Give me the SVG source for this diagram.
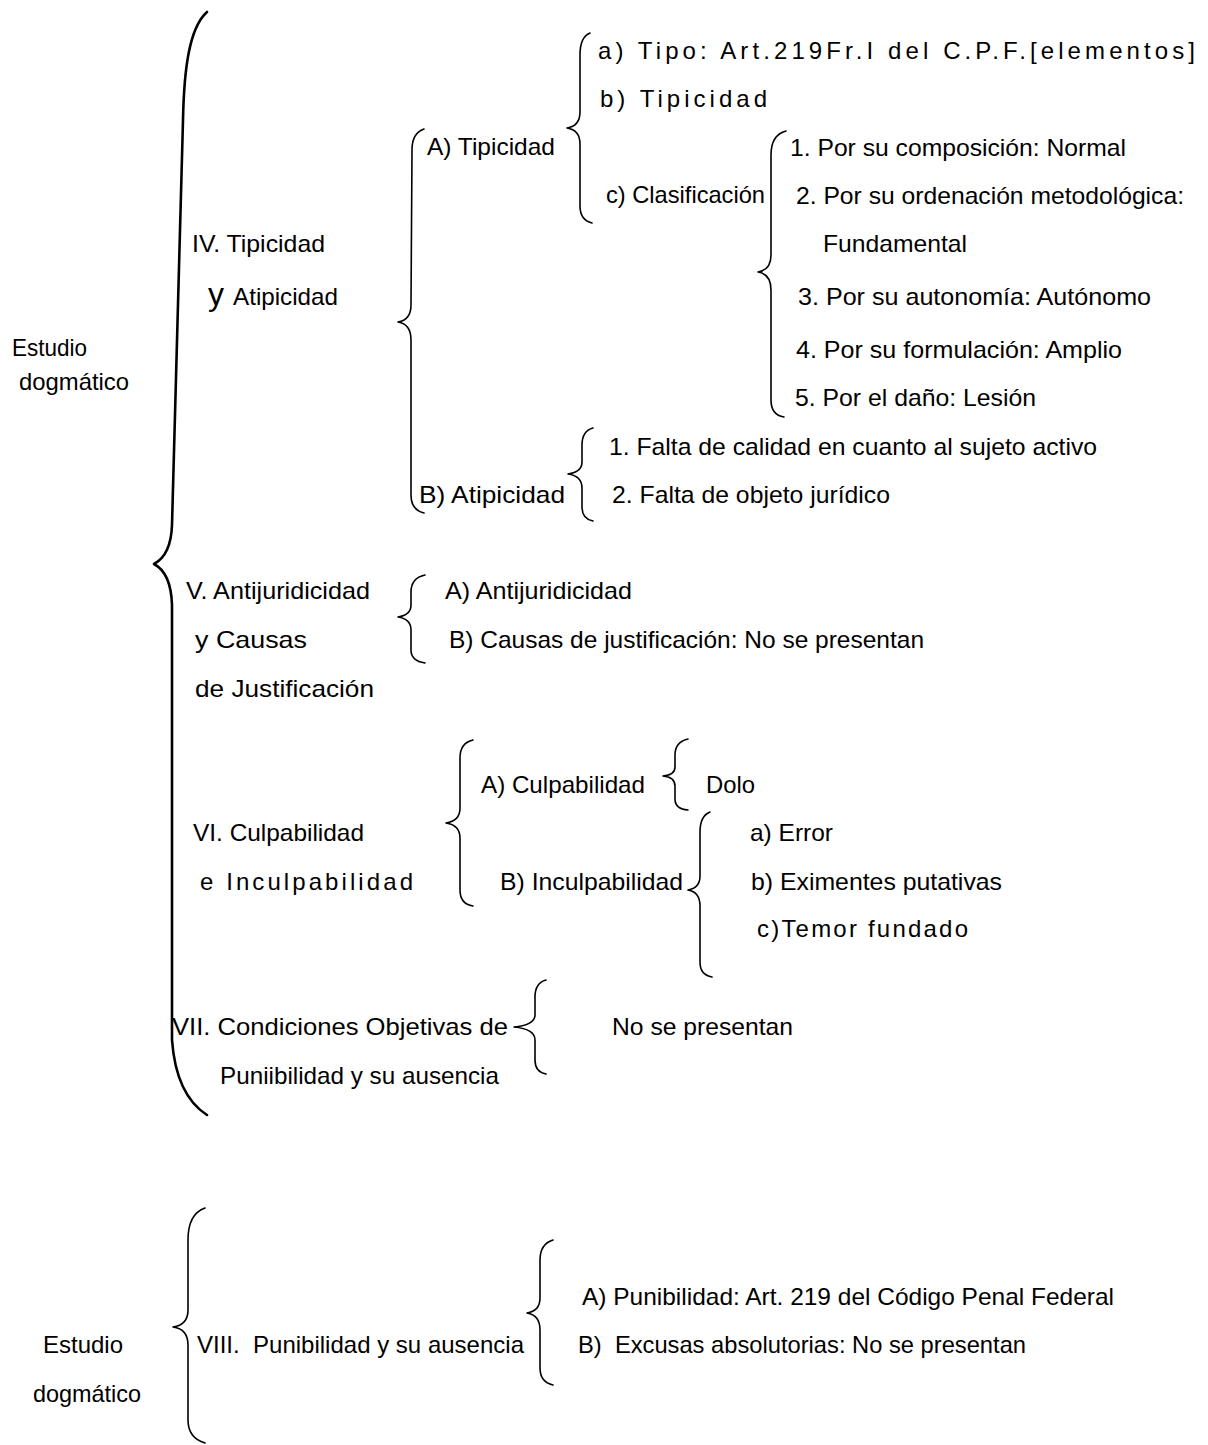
<svg xmlns="http://www.w3.org/2000/svg" width="1208" height="1445" viewBox="0 0 1208 1445">
  <style>
    text { font-family: "Liberation Sans", Arial, sans-serif; font-size: 24px; fill: #000; }
    text.tall { font-size: 32px; }
    .brace { fill: none; stroke: #000; stroke-width: 1.6; stroke-linecap: round; stroke-linejoin: round; }
    .big { stroke-width: 2.6; }
  </style>
  <rect width="1208" height="1445" fill="#fff"/>

  <!-- braces -->
  <g id="connectors">
    <path class="brace big" d="M207,12 C189,28 184,70 183,120 L172,525 Q171,555 154,564 Q171,573 172,605 L172,1040 Q176,1095 207,1115"/>
    <path class="brace" d="M424,129 Q412,133 412,150 L411,305 Q411,320 398,322 Q411,324 411,340 L411,495 Q411,510 424,513"/>
    <path class="brace" d="M590,33 Q580,37 580,55 L580,112 Q580,126 567,128 Q580,130 580,144 L580,206 Q580,220 592,223"/>
    <path class="brace" d="M786,131 Q771,135 771,155 L771,255 Q771,270 758,272 Q771,274 771,290 L771,400 Q771,415 784,417"/>
    <path class="brace" d="M593,428 Q582,431 582,445 L582,462 Q582,472 568,474 Q582,476 582,488 L582,507 Q582,519 593,521"/>
    <path class="brace" d="M425,575 Q411,578 411,592 L411,605 Q411,615 398,617 Q411,619 411,630 L411,650 Q411,661 425,663"/>
    <path class="brace" d="M473,740 Q460,743 460,758 L460,808 Q460,821 446,823 Q460,825 460,838 L460,890 Q460,904 473,906"/>
    <path class="brace" d="M688,739 Q675,742 675,755 L675,767 Q675,775 663,776 Q675,777 675,786 L675,799 Q675,809 688,810"/>
    <path class="brace" d="M710,812 Q700,816 700,832 L700,876 Q700,888 688,890 Q700,892 700,906 L700,962 Q700,975 712,977"/>
    <path class="brace" d="M546,980 Q535,983 535,997 L535,1015 Q535,1025 514,1027 Q535,1029 535,1040 L535,1060 Q535,1072 546,1074"/>
    <path class="brace" d="M205,1208 Q188,1214 188,1240 L188,1310 Q188,1325 173,1327 Q188,1329 188,1345 L188,1420 Q188,1438 205,1443"/>
    <path class="brace" d="M553,1240 Q540,1244 540,1260 L540,1298 Q540,1311 527,1313 Q540,1315 540,1330 L540,1368 Q540,1382 553,1385"/>
  </g>

  <g id="estudio-1">
    <text x="12" y="356" textLength="75" lengthAdjust="spacingAndGlyphs">Estudio</text>
    <text x="19" y="390" textLength="110" lengthAdjust="spacingAndGlyphs">dogmático</text>
  </g>

  <g id="iv">
    <text x="192" y="252" textLength="133" lengthAdjust="spacingAndGlyphs">IV. Tipicidad</text>
    <text class="tall" x="208" y="305">y</text>
    <text x="233" y="305" textLength="105" lengthAdjust="spacingAndGlyphs">Atipicidad</text>
  </g>

  <g id="iv-a">
    <text x="427" y="155" textLength="128" lengthAdjust="spacingAndGlyphs">A) Tipicidad</text>
    <text x="598" y="59" textLength="597" lengthAdjust="spacing">a) Tipo: Art.219Fr.I del C.P.F.[elementos]</text>
    <text x="600" y="107" textLength="167" lengthAdjust="spacing">b) Tipicidad</text>
    <text x="606" y="203" textLength="159" lengthAdjust="spacingAndGlyphs">c) Clasificación</text>
  </g>

  <g id="iv-a-c">
    <text x="790" y="156" textLength="336" lengthAdjust="spacingAndGlyphs">1. Por su composición: Normal</text>
    <text x="796" y="204" textLength="388" lengthAdjust="spacingAndGlyphs">2. Por su ordenación metodológica:</text>
    <text x="823" y="252" textLength="144" lengthAdjust="spacingAndGlyphs">Fundamental</text>
    <text x="798" y="305" textLength="353" lengthAdjust="spacingAndGlyphs">3. Por su autonomía: Autónomo</text>
    <text x="796" y="358" textLength="326" lengthAdjust="spacingAndGlyphs">4. Por su formulación: Amplio</text>
    <text x="795" y="406" textLength="241" lengthAdjust="spacingAndGlyphs">5. Por el daño: Lesión</text>
  </g>

  <g id="iv-b">
    <text x="419" y="503" textLength="146" lengthAdjust="spacingAndGlyphs">B) Atipicidad</text>
    <text x="609" y="455" textLength="488" lengthAdjust="spacingAndGlyphs">1. Falta de calidad en cuanto al sujeto activo</text>
    <text x="612" y="503" textLength="278" lengthAdjust="spacingAndGlyphs">2. Falta de objeto jurídico</text>
  </g>

  <g id="v">
    <text x="186" y="599" textLength="184" lengthAdjust="spacingAndGlyphs">V. Antijuridicidad</text>
    <text x="195" y="648" textLength="112" lengthAdjust="spacingAndGlyphs">y Causas</text>
    <text x="195" y="697" textLength="179" lengthAdjust="spacingAndGlyphs">de Justificación</text>
    <text x="445" y="599" textLength="187" lengthAdjust="spacingAndGlyphs">A) Antijuridicidad</text>
    <text x="449" y="648" textLength="475" lengthAdjust="spacingAndGlyphs">B) Causas de justificación: No se presentan</text>
  </g>

  <g id="vi">
    <text x="193" y="841" textLength="171" lengthAdjust="spacingAndGlyphs">VI. Culpabilidad</text>
    <text x="200" y="890" textLength="213" lengthAdjust="spacing">e Inculpabilidad</text>
    <text x="481" y="793" textLength="164" lengthAdjust="spacingAndGlyphs">A) Culpabilidad</text>
    <text x="706" y="793" textLength="49" lengthAdjust="spacingAndGlyphs">Dolo</text>
    <text x="500" y="890" textLength="183" lengthAdjust="spacingAndGlyphs">B) Inculpabilidad</text>
    <text x="750" y="841" textLength="83" lengthAdjust="spacingAndGlyphs">a) Error</text>
    <text x="751" y="890" textLength="251" lengthAdjust="spacingAndGlyphs">b) Eximentes putativas</text>
    <text x="757" y="937" textLength="211" lengthAdjust="spacing">c)Temor fundado</text>
  </g>

  <g id="vii">
    <text x="172" y="1035" textLength="336" lengthAdjust="spacingAndGlyphs">VII. Condiciones Objetivas de</text>
    <text x="220" y="1084" textLength="279" lengthAdjust="spacingAndGlyphs">Puniibilidad y su ausencia</text>
    <text x="612" y="1035" textLength="181" lengthAdjust="spacingAndGlyphs">No se presentan</text>
  </g>

  <g id="estudio-2">
    <text x="43" y="1353" textLength="80" lengthAdjust="spacingAndGlyphs">Estudio</text>
    <text x="33" y="1402" textLength="108" lengthAdjust="spacingAndGlyphs">dogmático</text>
  </g>

  <g id="viii">
    <text x="197" y="1353" textLength="327" lengthAdjust="spacingAndGlyphs" xml:space="preserve">VIII.  Punibilidad y su ausencia</text>
    <text x="582" y="1305" textLength="532" lengthAdjust="spacingAndGlyphs">A) Punibilidad: Art. 219 del Código Penal Federal</text>
    <text x="578" y="1353" textLength="448" lengthAdjust="spacingAndGlyphs" xml:space="preserve">B)  Excusas absolutorias: No se presentan</text>
  </g>
</svg>
